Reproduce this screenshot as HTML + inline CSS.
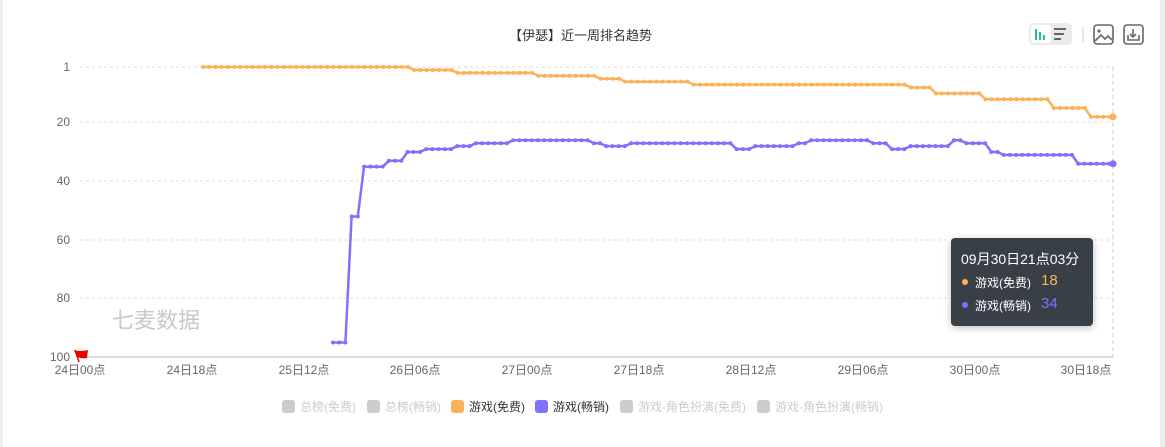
<!DOCTYPE html>
<html><head><meta charset="utf-8"><style>
body{margin:0;width:1165px;height:447px;background:#fff;overflow:hidden;font-family:"Liberation Sans","Noto Sans CJK SC",sans-serif;position:relative}
.lb{position:absolute;left:0;top:0;width:3px;height:447px;background:#eceef1}
.rb{position:absolute;right:0;top:0;width:5px;height:447px;background:#eceef1}
.t{position:absolute;font-size:12px;color:#666}
.leg{position:absolute;top:398px;font-size:12px;white-space:nowrap}
.leg span.sq{display:inline-block;width:13px;height:13px;border-radius:3px;vertical-align:-2px;margin-right:5px}
</style></head><body>
<div class="lb"></div><div class="rb"></div>
<div class="t" style="left:509px;top:25px;color:#333;font-size:13px">【伊瑟】近一周排名趋势</div>
<svg width="1165" height="447" style="position:absolute;left:0;top:0" id="s">
<rect x="1029" y="23" width="43" height="22" rx="4" fill="#ebebeb"/>
<rect x="1031" y="25" width="20" height="18" rx="3" fill="#fff"/>
<g stroke="#1ebd9e" stroke-width="2"><line x1="1036" y1="29" x2="1036" y2="40"/><line x1="1040" y1="32" x2="1040" y2="40"/><line x1="1044" y1="35" x2="1044" y2="40"/></g>
<g stroke="#666" stroke-width="2"><line x1="1054" y1="29" x2="1066" y2="29"/><line x1="1054" y1="34" x2="1064" y2="34"/><line x1="1054" y1="39" x2="1061" y2="39"/></g>
<line x1="1083" y1="27" x2="1083" y2="42" stroke="#ccc"/>
<rect x="1094" y="25" width="19" height="19" rx="3" fill="none" stroke="#666" stroke-width="1.6"/>
<circle cx="1099" cy="31" r="1.6" fill="#666"/><polyline points="1095,41 1101,35 1105,39 1108,36 1112,40" fill="none" stroke="#666" stroke-width="1.6"/>
<rect x="1124" y="25" width="19" height="19" rx="3" fill="none" stroke="#666" stroke-width="1.6"/>
<polyline points="1128,35 1128,40 1139,40 1139,35" fill="none" stroke="#666" stroke-width="1.6"/>
<polyline points="1133,29 1133,37" fill="none" stroke="#666" stroke-width="1.6"/>
<polyline points="1130,34 1133,37 1136,34" fill="none" stroke="#666" stroke-width="1.6"/>
<g stroke="#ddd" stroke-dasharray="3,3"><line x1="80" y1="67" x2="1113" y2="67"/><line x1="80" y1="122" x2="1113" y2="122"/><line x1="80" y1="181" x2="1113" y2="181"/><line x1="80" y1="240" x2="1113" y2="240"/><line x1="80" y1="298" x2="1113" y2="298"/></g>
<line x1="1113" y1="67" x2="1113" y2="357" stroke="#ccc" stroke-dasharray="4,3"/>
<line x1="80" y1="357" x2="1113" y2="357" stroke="#bbb"/>
<g font-size="12" fill="#666" text-anchor="end"><text x="70" y="71">1</text><text x="70" y="126">20</text><text x="70" y="185">40</text><text x="70" y="244">60</text><text x="70" y="302">80</text><text x="70" y="361">100</text></g>
<g font-size="12" fill="#666" text-anchor="middle"><text x="80" y="374">24日00点</text><text x="192" y="374">24日18点</text><text x="304" y="374">25日12点</text><text x="415" y="374">26日06点</text><text x="527" y="374">27日00点</text><text x="639" y="374">27日18点</text><text x="751" y="374">28日12点</text><text x="863" y="374">29日06点</text><text x="975" y="374">30日00点</text><text x="1086" y="374">30日18点</text></g>
<text x="112" y="328" font-size="22" fill="#c8c8c8">七麦数据</text>
<line x1="75" y1="350" x2="79" y2="362" stroke="#e00" stroke-width="1.5"/>
<path d="M74,350 Q80,352 88,350 L87,358 Q82,359 77,357 Z" fill="#e00"/>
<g id="g"></g>
</svg>
<div style="position:absolute;left:951px;top:238px;width:142px;height:88px;background:#393f46;border-radius:4px;box-shadow:0 2px 8px rgba(0,0,0,.25);color:#fff">
<div style="position:absolute;left:10px;top:11px;font-size:14px">09月30日21点03分</div>
<div style="position:absolute;left:11px;top:41px;width:6px;height:6px;border-radius:3px;background:#fdb25a"></div>
<div style="position:absolute;left:24px;top:36px;font-size:12px">游戏(免费)</div>
<div style="position:absolute;left:90px;top:34px;font-size:15px;color:#fdb25a">18</div>
<div style="position:absolute;left:11px;top:64px;width:6px;height:6px;border-radius:3px;background:#8070ff"></div>
<div style="position:absolute;left:24px;top:59px;font-size:12px">游戏(畅销)</div>
<div style="position:absolute;left:90px;top:57px;font-size:15px;color:#8070ff">34</div>
</div>
<div class="leg" style="left:282px;color:#ccc"><span class="sq" style="background:#ccc"></span>总榜(免费)</div>
<div class="leg" style="left:367px;color:#ccc"><span class="sq" style="background:#ccc"></span>总榜(畅销)</div>
<div class="leg" style="left:451px;color:#333"><span class="sq" style="background:#fdb25a"></span>游戏(免费)</div>
<div class="leg" style="left:535px;color:#333"><span class="sq" style="background:#8070ff"></span>游戏(畅销)</div>
<div class="leg" style="left:620px;color:#ccc"><span class="sq" style="background:#ccc"></span>游戏-角色扮演(免费)</div>
<div class="leg" style="left:757px;color:#ccc"><span class="sq" style="background:#ccc"></span>游戏-角色扮演(畅销)</div>
<script>
function Y(v){return 64.1+2.93*v}
var o=[[408,1],[455,2],[535,3],[600,4],[625,5],[690,6],[910,7],[930,8],[985,10],[1052,12],[1090,15],[2000,18]];
var p=[[347,95],[360,52],[386,35],[404,33],[423,30],[454,29],[473,28],[511,27],[593,26],[605,27],[630,28],[736,27],[755,29],[793,28],[811,27],[868,26],[887,27],[905,29],[948,28],[965,26],[986,27],[1003,30],[1078,31],[2000,34]];
function look(a,x){for(var i=0;i<a.length;i++)if(x<=a[i][0])return a[i][1];}
var g=document.getElementById('g'),ns='http://www.w3.org/2000/svg';
function draw(a,x0,c){var pts=[],d=6.21,x;for(x=x0;x<1113;x+=d)pts.push([x,Y(look(a,x))]);pts.push([1113,Y(look(a,1113))]);
var pl=document.createElementNS(ns,'polyline');pl.setAttribute('points',pts.map(function(q){return q[0].toFixed(1)+','+q[1].toFixed(1)}).join(' '));pl.setAttribute('fill','none');pl.setAttribute('stroke',c);pl.setAttribute('stroke-width','2.5');g.appendChild(pl);
pts.forEach(function(q,i){var ci=document.createElementNS(ns,'circle');ci.setAttribute('cx',q[0]);ci.setAttribute('cy',q[1]);ci.setAttribute('r',i==pts.length-1?3.5:2);ci.setAttribute('fill',c);g.appendChild(ci);});}
draw(o,203,'#fdb25a');draw(p,333,'#8070ff');
</script>
</body></html>
